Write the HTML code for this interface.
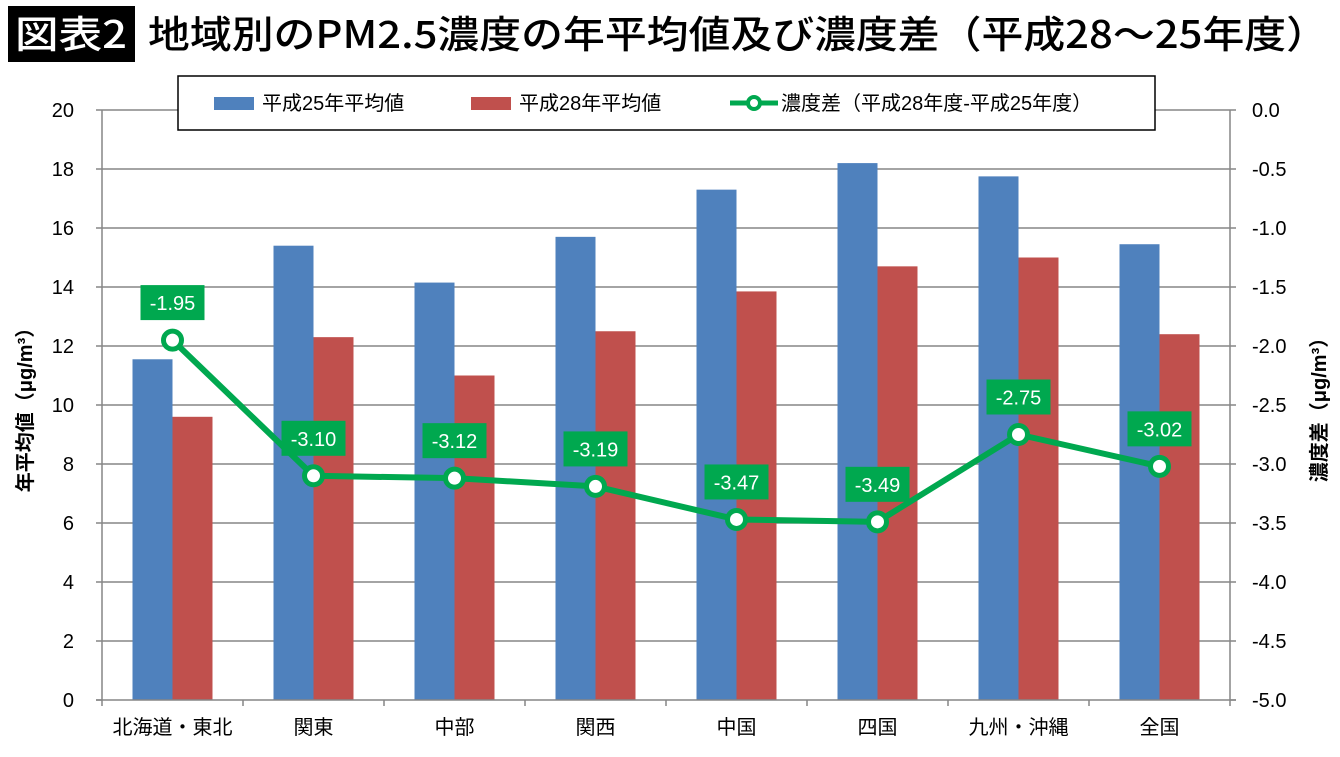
<!DOCTYPE html>
<html><head><meta charset="utf-8"><style>
body{margin:0;background:#fff}
svg text{font-family:"Liberation Sans","Noto Sans CJK JP",sans-serif}
</style></head><body>
<svg width="1340" height="752" viewBox="0 0 1340 752" id="c">
<rect x="8" y="6" width="127" height="56" fill="#000"/>
<text x="71" y="48" fill="#fff" font-size="38" font-weight="500" text-anchor="middle" textLength="112" lengthAdjust="spacingAndGlyphs" style="font-family:'Noto Sans CJK JP',sans-serif">図表2</text>
<text x="148" y="48" fill="#000" font-size="38" font-weight="500" textLength="1180" lengthAdjust="spacingAndGlyphs" style="font-family:'Noto Sans CJK JP',sans-serif">地域別のPM2.5濃度の年平均値及び濃度差（平成28〜25年度）</text>
<g id="grid"></g><g id="bars"></g><g id="axes"></g><g id="line"></g>
<g>
<rect x="178" y="76" width="977" height="54" fill="#fff" stroke="#000" stroke-width="1.5"/>
<rect x="214" y="97" width="40" height="13" fill="#4f81bd"/>
<text x="262" y="110" font-size="20">平成25年平均値</text>
<rect x="471" y="97" width="40" height="13" fill="#c0504d"/>
<text x="519" y="110" font-size="20">平成28年平均値</text>
<line x1="730" y1="103" x2="778" y2="103" stroke="#00a84f" stroke-width="5"/>
<circle cx="754" cy="103" r="6" fill="#fff" stroke="#00a84f" stroke-width="4"/>
<text x="781" y="110" font-size="20">濃度差（平成28年度-平成25年度）</text>
</g>
<text transform="translate(32,405) rotate(-90)" font-size="20" font-weight="bold" text-anchor="middle">年平均値（μg/m³）</text>
<text transform="translate(1326,405) rotate(-90)" font-size="20" font-weight="bold" text-anchor="middle">濃度差（μg/m³）</text>
</svg>
<script>
const categories=["北海道・東北","関東","中部","関西","中国","四国","九州・沖縄","全国"];
const h25=[11.55,15.4,14.15,15.7,17.3,18.2,17.75,15.45];
const h28=[9.6,12.3,11.0,12.5,13.85,14.7,15.0,12.4];
const diff=[-1.95,-3.10,-3.12,-3.19,-3.47,-3.49,-2.75,-3.02];
const leftTicks=[0,2,4,6,8,10,12,14,16,18,20];
const rightTicks=[0,-0.5,-1,-1.5,-2,-2.5,-3,-3.5,-4,-4.5,-5];
const NS="http://www.w3.org/2000/svg";
const X0=102,X1=1230,Y0=700,Y1=110,bw=(X1-X0)/categories.length;
const yL=v=>Y0-(v/20)*(Y0-Y1);
const yR=v=>Y1+(-v/5)*(Y0-Y1);
const xc=i=>X0+bw*(i+0.5);
function mk(t,a,p){const e=document.createElementNS(NS,t);for(const k in a)e.setAttribute(k,a[k]);document.getElementById(p).appendChild(e);return e;}
leftTicks.forEach((v,i)=>{const y=yL(v);
 if(v>0){const g=mk('line',{x1:X0,x2:X1,y1:y,y2:y,stroke:'#868686','stroke-width':1.5},'grid');}
 mk('line',{x1:X0-6,x2:X0,y1:y,y2:y,stroke:'#868686','stroke-width':1.5},'axes');
 const t=mk('text',{x:X0-28,y:y+7,'font-size':20,'text-anchor':'end'},'axes');t.textContent=v;
 });
rightTicks.forEach(v=>{const y=yR(v);
 mk('line',{x1:X1,x2:X1+6,y1:y,y2:y,stroke:'#868686','stroke-width':1.5},'axes');
 const t=mk('text',{x:X1+22,y:y+7,'font-size':20},'axes');t.textContent=v.toFixed(1);
 });
mk('line',{x1:X0,x2:X0,y1:Y1,y2:Y0,stroke:'#868686','stroke-width':1.5},'axes');
mk('line',{x1:X1,x2:X1,y1:Y1,y2:Y0,stroke:'#868686','stroke-width':1.5},'axes');
mk('line',{x1:X0-6,x2:X1+6,y1:Y0,y2:Y0,stroke:'#868686','stroke-width':1.5},'axes');
for(let i=0;i<=categories.length;i++){const x=X0+bw*i;mk('line',{x1:x,x2:x,y1:Y0,y2:Y0+6,stroke:'#868686','stroke-width':1.5},'axes');}
categories.forEach((c,i)=>{
 const b=mk('rect',{x:xc(i)-40,y:yL(h25[i]),width:40,height:Y0-yL(h25[i]),fill:'#4f81bd'},'bars');
 
 const r=mk('rect',{x:xc(i),y:yL(h28[i]),width:40,height:Y0-yL(h28[i]),fill:'#c0504d'},'bars');
 
 const t=mk('text',{x:xc(i),y:734,'font-size':20,'text-anchor':'middle'},'axes');t.textContent=c;
 });
const pl=mk('polyline',{points:diff.map((v,i)=>xc(i)+','+yR(v)).join(' '),fill:'none',stroke:'#00a84f','stroke-width':6,'stroke-linejoin':'round'},'line');

diff.forEach((v,i)=>{const x=xc(i),y=yR(v);
 const c=mk('circle',{cx:x,cy:y,r:9,fill:'#fff',stroke:'#00a84f','stroke-width':5},'line');
 
 const b=mk('rect',{x:x-32,y:y-55,width:64,height:35,fill:'#00a84f'},'line');
 
 const t=mk('text',{x:x,y:y-30,'font-size':20,fill:'#fff','text-anchor':'middle'},'line');t.textContent=v.toFixed(2);
 });
</script>
</body></html>
